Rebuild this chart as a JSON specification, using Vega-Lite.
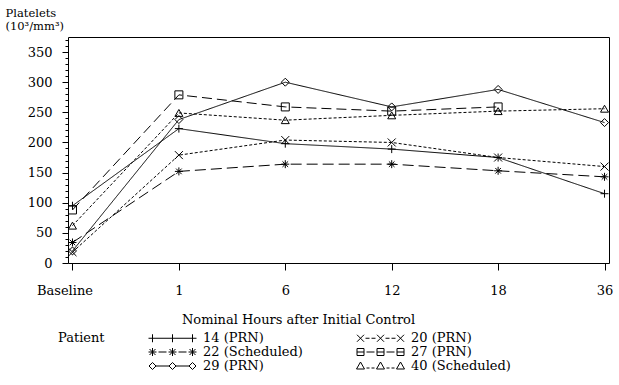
{
  "$schema": "https://vega.github.io/schema/vega-lite/v6.json",
  "width": 541,
  "height": 226,
  "autosize": "none",
  "padding": {"left": 68, "top": 37, "right": 10, "bottom": 122},
  "background": "white",
  "config": {
    "view": {"stroke": "black", "strokeWidth": 1},
    "font": "DejaVu Serif",
    "axis": {
      "labelFont": "DejaVu Serif",
      "titleFont": "DejaVu Serif",
      "labelColor": "black",
      "titleColor": "black",
      "tickColor": "black",
      "domain": false,
      "grid": false,
      "titleFontWeight": "normal",
      "labelFontSize": 13,
      "titleFontSize": 13
    },
    "legend": {
      "orient": "none",
      "legendX": -10,
      "legendY": 294.5,
      "columns": 2,
      "padding": 0,
      "titleOrient": "left",
      "titleAnchor": "start",
      "titleFont": "DejaVu Serif",
      "titleFontSize": 13,
      "titleFontWeight": "normal",
      "titleColor": "black",
      "titlePadding": 41,
      "labelFont": "DejaVu Serif",
      "labelFontSize": 13,
      "labelColor": "black",
      "labelBaseline": "middle",
      "labelOffset": 44,
      "labelLimit": 0,
      "symbolSize": 4,
      "symbolStrokeWidth": 1,
      "symbolStrokeColor": "black",
      "symbolFillColor": "transparent",
      "rowPadding": 0,
      "columnPadding": 51
    }
  },
  "data": {
    "values": [
      {"patient": "14 (PRN)", "hours": "Baseline", "value": 95},
      {"patient": "14 (PRN)", "hours": "1", "value": 223},
      {"patient": "14 (PRN)", "hours": "6", "value": 198},
      {"patient": "14 (PRN)", "hours": "12", "value": 189},
      {"patient": "14 (PRN)", "hours": "18", "value": 175},
      {"patient": "14 (PRN)", "hours": "36", "value": 115},
      {"patient": "22 (Scheduled)", "hours": "Baseline", "value": 34},
      {"patient": "22 (Scheduled)", "hours": "1", "value": 152},
      {"patient": "22 (Scheduled)", "hours": "6", "value": 164},
      {"patient": "22 (Scheduled)", "hours": "12", "value": 164},
      {"patient": "22 (Scheduled)", "hours": "18", "value": 153},
      {"patient": "22 (Scheduled)", "hours": "36", "value": 143},
      {"patient": "29 (PRN)", "hours": "Baseline", "value": 20},
      {"patient": "29 (PRN)", "hours": "1", "value": 238},
      {"patient": "29 (PRN)", "hours": "6", "value": 300},
      {"patient": "29 (PRN)", "hours": "12", "value": 259},
      {"patient": "29 (PRN)", "hours": "18", "value": 288},
      {"patient": "29 (PRN)", "hours": "36", "value": 233},
      {"patient": "20 (PRN)", "hours": "Baseline", "value": 18},
      {"patient": "20 (PRN)", "hours": "1", "value": 179},
      {"patient": "20 (PRN)", "hours": "6", "value": 204},
      {"patient": "20 (PRN)", "hours": "12", "value": 200},
      {"patient": "20 (PRN)", "hours": "18", "value": 175},
      {"patient": "20 (PRN)", "hours": "36", "value": 160},
      {"patient": "27 (PRN)", "hours": "Baseline", "value": 88},
      {"patient": "27 (PRN)", "hours": "1", "value": 279},
      {"patient": "27 (PRN)", "hours": "6", "value": 259},
      {"patient": "27 (PRN)", "hours": "12", "value": 252},
      {"patient": "27 (PRN)", "hours": "18", "value": 259},
      {"patient": "40 (Scheduled)", "hours": "Baseline", "value": 62},
      {"patient": "40 (Scheduled)", "hours": "1", "value": 249},
      {"patient": "40 (Scheduled)", "hours": "6", "value": 237},
      {"patient": "40 (Scheduled)", "hours": "12", "value": 245},
      {"patient": "40 (Scheduled)", "hours": "18", "value": 252},
      {"patient": "40 (Scheduled)", "hours": "36", "value": 256}
    ]
  },
  "layer": [
    {
      "mark": {"type": "line", "color": "black", "strokeWidth": 1},
      "encoding": {
        "x": {
          "field": "hours", "type": "ordinal",
          "sort": ["Baseline", "1", "6", "12", "18", "36"],
          "scale": {"type": "point", "padding": 0.042},
          "axis": {
            "title": "Nominal Hours after Initial Control",
            "labelAngle": 0,
            "tickSize": 7,
            "labelPadding": 14,
            "titleX": 230,
            "titleY": 60,
            "titleAlign": "center",
            "titleBaseline": "alphabetic",
            "labelOffset": {"condition": {"test": "datum.value === 'Baseline'", "value": -8}, "value": 0}
          }
        },
        "y": {
          "field": "value", "type": "quantitative",
          "scale": {"domain": [0, 375], "nice": false},
          "axis": {
            "orient": "left",
            "title": null,
            "labels": false,
            "tickSize": 3,
            "values": [10, 20, 30, 40, 60, 70, 80, 90, 110, 120, 130, 140, 160, 170, 180, 190, 210, 220, 230, 240, 260, 270, 280, 290, 310, 320, 330, 340, 360, 370]
          }
        },
        "detail": {"field": "patient"},
        "strokeDash": {
          "field": "patient", "type": "nominal",
          "scale": {
            "domain": ["14 (PRN)", "20 (PRN)", "22 (Scheduled)", "27 (PRN)", "29 (PRN)", "40 (Scheduled)"],
            "range": [[1, 0], [3, 2], [11, 5], [10, 5], [1, 0], [3, 2]]
          },
          "legend": null
        }
      }
    },
    {
      "mark": {"type": "point", "filled": false, "color": "black", "strokeWidth": 1, "opacity": 1, "size": 64},
      "encoding": {
        "x": {"field": "hours", "type": "ordinal", "sort": ["Baseline", "1", "6", "12", "18", "36"]},
        "y": {
          "field": "value", "type": "quantitative",
          "axis": {
            "orient": "left",
            "title": ["Platelets", "(10³/mm³)"],
            "values": [0, 50, 100, 150, 200, 250, 300, 350],
            "tickSize": 6,
            "labelPadding": 10,
            "titleAngle": 0,
            "titleAlign": "left",
            "titleBaseline": "alphabetic",
            "titleX": -63,
            "titleY": -21,
            "titleFontSize": 11.5,
            "titleLineHeight": 13
          }
        },
        "shape": {
          "field": "patient", "type": "nominal",
          "scale": {
            "domain": ["14 (PRN)", "20 (PRN)", "22 (Scheduled)", "27 (PRN)", "29 (PRN)", "40 (Scheduled)"],
            "range": [
              "M-1,0H1M0,-1V1",
              "M-1,-1L1,1M-1,1L1,-1",
              "M-1,0H1M0,-1V1M-0.7,-0.7L0.7,0.7M-0.7,0.7L0.7,-0.7",
              "square",
              "diamond",
              "triangle-up"
            ]
          },
          "legend": null
        }
      }
    },
    {
      "transform": [{"filter": "datum.value < 0"}],
      "mark": {"type": "point", "filled": false, "color": "black", "strokeWidth": 1, "opacity": 1, "size": 4},
      "encoding": {
        "x": {"field": "hours", "type": "ordinal", "sort": ["Baseline", "1", "6", "12", "18", "36"]},
        "y": {"field": "value", "type": "quantitative", "axis": null},
        "shape": {
          "field": "patient", "type": "nominal",
          "scale": {
            "domain": ["14 (PRN)", "22 (Scheduled)", "29 (PRN)", "20 (PRN)", "27 (PRN)", "40 (Scheduled)"],
            "range": [
              "M-4,0H44M0,-4V4M20,-4V4M40,-4V4",
              "M-4,0H4M0,-4V4M-3,-3L3,3M-3,3L3,-3M16,0H24M20,-4V4M17,-3L23,3M17,3L23,-3M36,0H44M40,-4V4M37,-3L43,3M37,3L43,-3M6,0H14M26,0H34",
              "M-3.5,0L0,-3.5L3.5,0L0,3.5ZM16.5,0L20,-3.5L23.5,0L20,3.5ZM36.5,0L40,-3.5L43.5,0L40,3.5ZM3.5,0H16.5M23.5,0H36.5",
              "M-3.5,-3.5L3.5,3.5M-3.5,3.5L3.5,-3.5M16.5,-3.5L23.5,3.5M16.5,3.5L23.5,-3.5M36.5,-3.5L43.5,3.5M36.5,3.5L43.5,-3.5M5,0H9M11,0H15M25,0H29M31,0H35",
              "M-3.5,-3.5H3.5V3.5H-3.5ZM-3.5,0H3.5M16.5,-3.5H23.5V3.5H16.5ZM16.5,0H23.5M36.5,-3.5H43.5V3.5H36.5ZM36.5,0H43.5M6,0H14M26,0H34",
              "M0,-4L4,3H-4ZM20,-4L24,3H16ZM40,-4L44,3H36ZM6,2H9M11,2H14M26,2H29M31,2H34"
            ]
          },
          "legend": {
            "title": "Patient",
            "encode": {"title": {"update": {"dy": {"value": 10}}}}
          }
        }
      }
    }
  ],
  "resolve": {"scale": {"shape": "independent"}, "axis": {"y": "independent"}}
}
